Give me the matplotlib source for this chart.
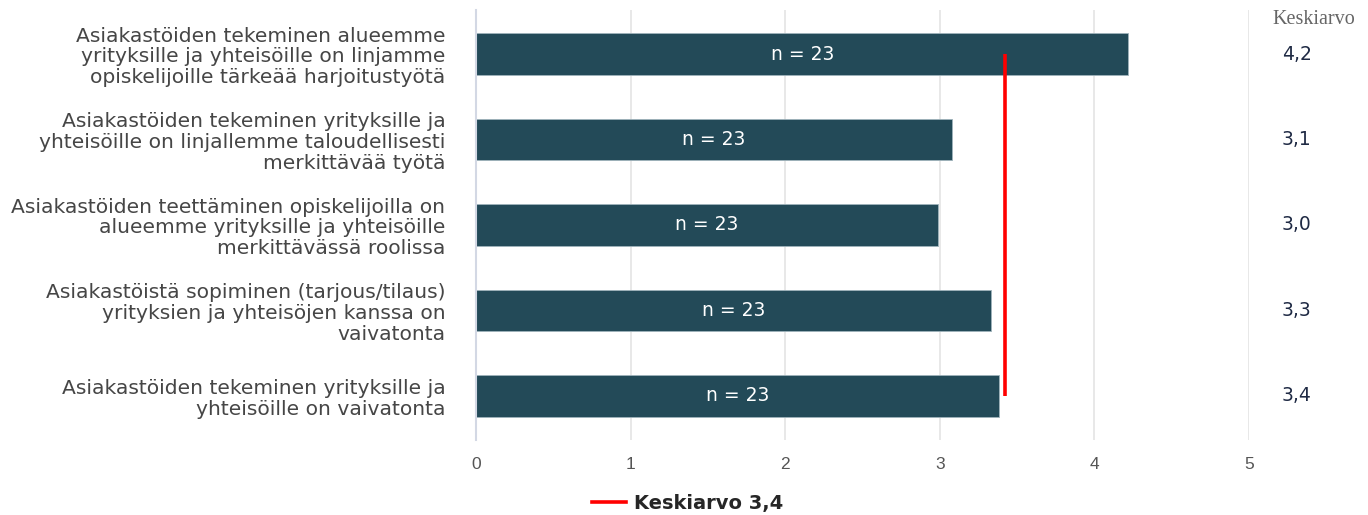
import matplotlib
matplotlib.use("Agg")
import matplotlib.pyplot as plt
from matplotlib.lines import Line2D

plt.rcParams['font.family'] = ['DejaVu Sans']

statements = [
    "Asiakastöiden tekeminen alueemme\nyrityksille ja yhteisöille on linjamme\nopiskelijoille tärkeää harjoitustyötä",
    "Asiakastöiden tekeminen yrityksille ja\nyhteisöille on linjallemme taloudellisesti\nmerkittävää työtä",
    "Asiakastöiden teettäminen opiskelijoilla on\nalueemme yrityksille ja yhteisöille\nmerkittävässä roolissa",
    "Asiakastöistä sopiminen (tarjous/tilaus)\nyrityksien ja yhteisöjen kanssa on\nvaivatonta",
    "Asiakastöiden tekeminen yrityksille ja\nyhteisöille on vaivatonta",
]
means = [4.22, 3.08, 2.99, 3.33, 3.38]
counts = [23, 23, 23, 23, 23]
overall_mean = 3.42
xticks = [0, 1, 2, 3, 4, 5]

def fi(v):
    return f"{v:.1f}".replace(".", ",")

fig = plt.figure(figsize=(13.68, 5.15), dpi=100)
ax = fig.add_axes([476 / 1368, 1 - 440 / 515, (1249 - 476) / 1368, 430 / 515])

ypos = list(range(len(means)))
ax.barh(ypos, means, height=0.49, color="#234a58", edgecolor="#9fb3bb",
        linewidth=0.6, zorder=2)
for y, v, n in zip(ypos, means, counts):
    ax.text(v / 2, y, f"n = {n}", color="white", ha="center", va="center",
            fontsize=13.5, zorder=3)

ax.plot([overall_mean, overall_mean], [0, len(means) - 1], color="#ff0000",
        linewidth=2.6, zorder=4, solid_capstyle="butt")

ax.set_xlim(0, 5)
ax.set_ylim(len(means) - 0.485, -0.515)
ax.set_xticks(xticks)
ax.set_xticklabels([str(t) for t in xticks], color="#555555", fontsize=12.5,
                   family="Liberation Sans")
ax.tick_params(axis="x", length=0, pad=12)
ax.set_yticks(ypos)
ax.set_yticklabels(statements, color="#464646", fontsize=14.6, linespacing=1.12)
ax.tick_params(axis="y", length=0, pad=22)
for lbl in ax.get_yticklabels():
    lbl.set_horizontalalignment("right")
    lbl.set_multialignment("right")

ax.grid(axis="x", color="#e4e4e4", linewidth=1.2, zorder=0)
ax.set_axisbelow(True)
for side in ["top", "right", "bottom"]:
    ax.spines[side].set_visible(False)
ax.spines["left"].set_color("#d3d8e4")
ax.spines["left"].set_linewidth(1.5)

# mean column on the right
fig.text(1314 / 1368, 1 - 20 / 515, "Keskiarvo", family="Liberation Serif",
         color="#666666", fontsize=14.5, ha="center", va="center")
for y, v in zip(ypos, means):
    ax.text(5.31, y, fi(v), color="#1f2a44", fontsize=13.5, ha="center",
            va="center", transform=ax.transData, clip_on=False)

handle = Line2D([], [], color="#ff0000", linewidth=2.6)
fig.legend([handle], [f"Keskiarvo {fi(overall_mean)}"], loc="center",
           bbox_to_anchor=(688 / 1368, 1 - 503 / 515), frameon=False,
           prop={"weight": "bold", "size": 14}, handlelength=1.7,
           handletextpad=0.45, labelcolor="#262626")

fig.savefig("out.png", dpi=100, facecolor="white")
